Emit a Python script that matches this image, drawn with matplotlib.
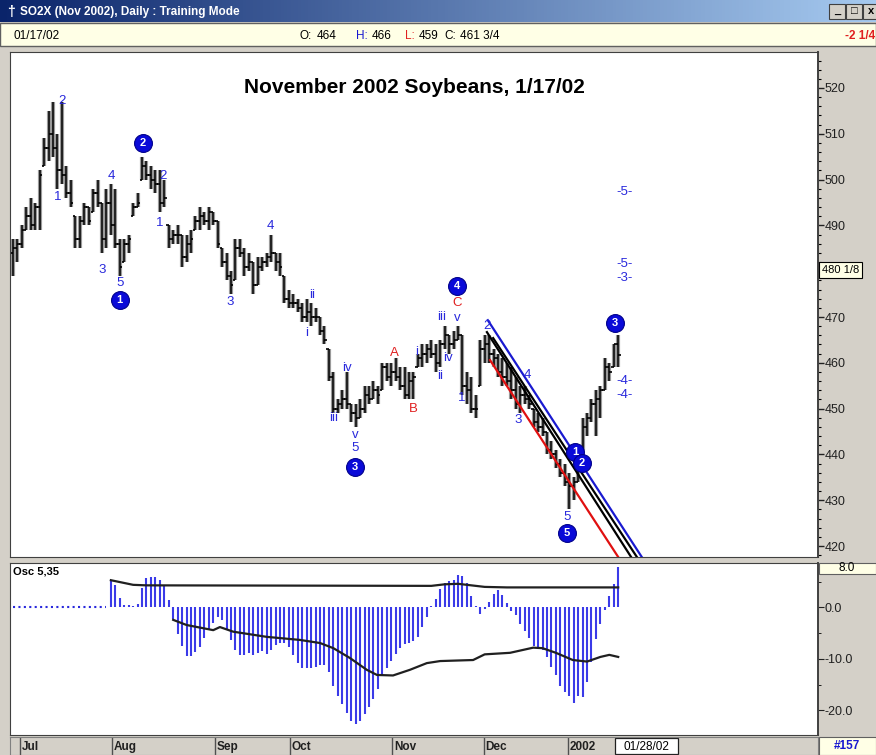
#!/usr/bin/env python3
"""
November 2002 Soybeans daily bar chart with Elliott wave counts
and a 5/35 oscillator panel (trading-software screenshot look)
"""

import numpy as np
import matplotlib
matplotlib.use("Agg")
import matplotlib.pyplot as plt
from matplotlib.patches import Rectangle

W, H = 876, 755
plt.rcParams['font.family'] = ['Liberation Sans', 'DejaVu Sans']

# Daily bars, Jul 2001 .. 01/17/02 (one entry per trading day)
highs = [487, 487, 490, 494, 496, 495, 502, 509, 515, 517,
         510, 517, 503, 500, 492, 492, 495, 494, 498, 500,
         495, 498, 499, 498, 487, 487, 488, 495, 497, 505,
         504, 503, 502, 502, 500, 490, 489, 490, 488, 488,
         489, 492, 494, 493, 494, 493, 491, 485, 484, 480,
         487, 487, 485, 484, 482, 483, 483, 484, 488, 484,
         484, 479, 476, 475, 474, 473, 474, 473, 472, 470,
         468, 463, 458, 452, 454, 458, 451, 451, 452, 455,
         455, 456, 455, 460, 460, 460, 461, 459, 459, 458,
         458, 462, 464, 464, 465, 464, 465, 468, 466, 467,
         468, 466, 458, 457, 453, 465, 466, 466, 463, 462,
         461, 460, 459, 457, 455, 455, 453, 450, 449, 448,
         445, 443, 441, 439, 438, 436, 435, 439, 448, 449,
         452, 454, 455, 461, 460, 464, 466]
lows = [479, 482, 485, 489, 489, 489, 489, 503, 504, 505,
        498, 499, 496, 494, 485, 485, 490, 490, 493, 494,
        484, 485, 488, 485, 479, 482, 484, 492, 494, 500,
        500, 498, 497, 493, 494, 485, 486, 486, 481, 482,
        484, 489, 489, 490, 489, 490, 485, 481, 478, 475,
        478, 483, 479, 480, 475, 477, 480, 481, 482, 480,
        479, 473, 472, 472, 471, 469, 469, 468, 469, 466,
        464, 456, 449, 449, 450, 450, 447, 446, 448, 449,
        451, 452, 451, 454, 456, 455, 456, 454, 452, 452,
        452, 459, 459, 460, 461, 458, 459, 463, 462, 463,
        465, 453, 451, 449, 448, 455, 460, 460, 459, 457,
        455, 455, 452, 450, 449, 451, 450, 446, 445, 444,
        440, 439, 437, 435, 433, 428, 430, 434, 441, 444,
        447, 444, 448, 454, 456, 459, 459]
closes = [485, 486, 489, 492, 490, 494, 501, 507, 510, 507,
          502, 501, 497, 495, 487, 491, 494, 491, 497, 495,
          487, 495, 490, 486, 481, 486, 487, 494, 495, 503,
          501, 500, 499, 495, 496, 487, 488, 488, 483, 486,
          487, 491, 492, 491, 493, 491, 486, 482, 479, 477,
          485, 484, 481, 482, 477, 481, 482, 483, 484, 482,
          481, 474, 473, 473, 472, 470, 471, 470, 470, 467,
          465, 457, 450, 451, 452, 451, 449, 448, 450, 453,
          452, 454, 453, 459, 457, 458, 457, 455, 453, 456,
          457, 461, 462, 463, 462, 460, 464, 466, 464, 465,
          466, 455, 454, 450, 450, 463, 464, 462, 461, 458,
          457, 456, 454, 451, 453, 452, 451, 447, 446, 445,
          441, 440, 438, 436, 434, 433, 434, 437, 446, 448,
          451, 452, 454, 459, 458, 464, 461.75]
first_open = 484

# Osc 5,35 histogram, starts at bar 22 (earlier bars sit on the zero line)
osc_start = 22
osc_values = [5.4, 4.4, 1.8, 0.5, 0.4, 0.3, 0.6, 3.7, 5.8, 6.0,
              6.0, 5.3, 4.2, 1.5, -2.2, -5.1, -7.5, -9.4, -9.5, -8.7,
              -7.6, -5.9, -4.3, -3.1, -1.8, -2.4, -4.3, -6.3, -8.2, -9.2,
              -9.2, -8.8, -9.2, -8.8, -8.5, -9.1, -8.3, -7.2, -6.8, -6.8,
              -7.6, -9.3, -10.8, -11.7, -11.8, -11.8, -11.5, -11.1, -11.2, -12.5,
              -15.3, -17.2, -18.8, -20.5, -22.0, -22.6, -22.0, -20.6, -19.4, -17.8,
              -15.8, -13.4, -11.8, -10.4, -9.1, -7.8, -7.1, -6.8, -6.5, -5.7,
              -3.8, -1.8, 0.3, 1.7, 3.5, 4.7, 5.2, 5.3, 6.3, 6.2,
              4.7, 2.3, 0.2, -1.3, -0.3, 1.0, 2.6, 3.3, 2.4, 0.9,
              -0.6, -1.5, -3.3, -4.6, -6.0, -7.4, -8.0, -8.2, -9.6, -11.5,
              -13.2, -15.2, -16.5, -17.2, -18.6, -17.2, -17.3, -14.5, -10.5, -6.2,
              -3.2, -0.5, 2.2, 4.5, 7.9]

# black envelope lines on the oscillator panel (bar index, value)
osc_upper_idx = [22, 27, 30, 94, 97, 100, 102, 106, 111, 136]
osc_upper_val = [5.3, 4.4, 4.3, 4.2, 4.5, 4.6, 4.4, 4.0, 3.9, 3.9]
osc_lower_idx = [36, 39, 45, 46.5, 49.5, 57, 64.5, 69, 72, 75.7, 79.5, 81.8,
                 85.4, 89.2, 93, 96, 103.4, 106, 111.7, 116.9, 119, 122,
                 125.8, 129, 132, 134, 136]
osc_lower_val = [-2.4, -3.4, -4.4, -3.8, -4.7, -5.7, -6.3, -6.9, -7.9, -9.8,
                 -12.1, -13.1, -13.2, -12.1, -10.8, -10.4, -10.2, -9.1, -8.8,
                 -7.8, -7.9, -8.8, -10.2, -10.5, -9.6, -9.2, -9.6]

# month separators on the date strip (bar index where the month starts)
month_labels = ["Jul", "Aug", "Sep", "Oct", "Nov", "Dec", "2002"]
month_starts = [1.6, 22.2, 45.4, 62.2, 85.2, 105.8, 124.7]

# down channel drawn from wave 2: (start idx, start price, end idx, end price, colour)
channel_lines = [
    (106.7, 469.3, 141.3, 417.6, "#1a1ad0"),
    (106.5, 466.7, 138.9, 417.6, "black"),
    (107.9, 465.4, 140.2, 417.6, "black"),
    (107.2, 460.6, 136.0, 417.6, "#e01010"),
]

BLUE = "#2828dc"
RED = "#e02020"

# Elliott wave labels (text, bar index, price, colour)
wave_labels = [
    ("2", 11.0, 517.2, BLUE), ("1", 10.1, 496.2, BLUE), ("3", 20.0, 480.3, BLUE),
    ("4", 22.0, 500.8, BLUE), ("5", 24.0, 477.4, BLUE), ("2", 33.7, 500.8, BLUE),
    ("1", 33.0, 490.5, BLUE), ("3", 48.8, 473.3, BLUE), ("4", 57.8, 489.9, BLUE),
    ("ii", 67.2, 474.8, BLUE), ("i", 66.0, 466.5, BLUE), ("iii", 72.0, 448.0, BLUE),
    ("iv", 75.0, 458.9, BLUE), ("v", 76.9, 444.2, BLUE), ("5", 76.9, 441.4, BLUE),
    ("A", 85.8, 462.1, RED), ("B", 89.9, 449.9, RED), ("i", 90.8, 462.4, BLUE),
    ("ii", 96.0, 457.1, BLUE), ("iii", 96.4, 470.0, BLUE), ("iv", 97.8, 461.0, BLUE),
    ("v", 99.8, 469.8, BLUE), ("C", 99.8, 473.1, RED), ("1", 100.9, 452.3, BLUE),
    ("2", 106.5, 468.0, BLUE), ("4", 115.5, 457.3, BLUE), ("3", 113.5, 447.5, BLUE),
    ("5", 124.5, 426.3, BLUE),
    ("-5-", 137.5, 497.3, BLUE), ("-5-", 137.5, 481.6, BLUE), ("-3-", 137.5, 478.5, BLUE),
    ("-4-", 137.5, 456.0, BLUE), ("-4-", 137.5, 453.0, BLUE),
]

# circled major wave degree labels (text, bar index, price)
circle_labels = [
    ("1", 24.0, 473.7), ("2", 29.2, 508.0), ("3", 76.9, 437.2), ("4", 99.8, 476.8),
    ("5", 124.5, 422.8), ("1", 126.3, 440.5), ("2", 127.9, 438.1), ("3", 135.3, 468.7),
]

GRAY = "#d4d0c8"
PALE = "#ffffe6"


def fig_box(fig, x0, y0, x1, y1, face, edge=None, lw=0.8):
    """Rectangle in pixel coords (origin top-left)"""
    r = Rectangle((x0 / W, 1 - y1 / H), (x1 - x0) / W, (y1 - y0) / H,
                  transform=fig.transFigure, facecolor=face,
                  edgecolor=edge if edge else "none", linewidth=lw)
    fig.patches.append(r)


def fig_text(fig, x, y, s, **kw):
    fig.text(x / W, 1 - y / H, s, **kw)


def pix_axes(fig, x0, y0, x1, y1, **kw):
    return fig.add_axes([x0 / W, 1 - y1 / H, (x1 - x0) / W, (y1 - y0) / H], **kw)


def draw_window(fig):
    # title bar gradient
    tb = pix_axes(fig, 0, 0, W, 22)
    grad = np.linspace(0, 1, 256)
    c0 = np.array([10, 36, 106]) / 255
    c1 = np.array([166, 202, 240]) / 255
    img = (c0[None, :] * (1 - grad[:, None]) + c1[None, :] * grad[:, None])[None, :, :]
    tb.imshow(img, aspect="auto", extent=[0, 1, 0, 1])
    tb.set_axis_off()
    fig_text(fig, 7, 12, "\u2020", color="white", fontsize=10, fontweight="bold", va="center")
    fig_text(fig, 20, 12, "SO2X (Nov 2002), Daily : Training Mode", color="white",
             fontsize=8.5, fontweight="bold", va="center")
    for x0, sym in [(829, "_"), (846, "\u25a1"), (863, "x")]:
        fig_box(fig, x0, 4, x0 + 16, 19, GRAY, "#404040")
        fig_text(fig, x0 + 8, 11, sym, fontsize=8, fontweight="bold", ha="center", va="center")

    # info bar
    fig_box(fig, 0, 23, W, 46, PALE, "#606060", 1.0)
    fig_text(fig, 14, 36, "01/17/02", fontsize=8.5, va="center")
    info = [(300, "O:", "black"), (317, "464", "black"), (356, "H:", "#1818d0"),
            (372, "466", "black"), (405, "L:", RED), (419, "459", "black"),
            (444, "C:", "black"), (460, "461 3/4", "black")]
    for x, s, c in info:
        fig_text(fig, x, 36, s, fontsize=8.5, color=c, va="center")
    fig_text(fig, 845, 36, "-2 1/4", fontsize=8.5, color=RED, va="center", fontweight="bold")


def draw_price_panel(fig):
    ax = pix_axes(fig, 10, 52, 818, 557, facecolor="white")
    n = len(highs)
    idx = np.arange(n)
    opens = np.clip(np.r_[first_open, closes[:-1]], lows, highs)

    ax.vlines(idx, lows, highs, color="#9a9a9a", lw=3.0, zorder=2)
    ax.vlines(idx, lows, highs, color="black", lw=1.1, zorder=3)
    ax.hlines(closes, idx, idx + 0.55, color="black", lw=1.2, zorder=3)
    ax.hlines(opens, idx - 0.55, idx, color="black", lw=1.2, zorder=3)

    for x0, y0, x1, y1, c in channel_lines:
        ax.plot([x0, x1], [y0, y1], color=c, lw=1.6, zorder=4)

    for s, x, y, c in wave_labels:
        ax.text(x, y, s, color=c, fontsize=9.5, ha="center", va="center", zorder=5)
    for s, x, y in circle_labels:
        ax.scatter([x], [y], s=165, color="#0a0ad8", edgecolor="#00008a", lw=0.8, zorder=6)
        ax.text(x, y, s, color="white", fontsize=8, fontweight="bold",
                ha="center", va="center", zorder=7)

    ax.text(0.5, 0.93, "November 2002 Soybeans, 1/17/02", transform=ax.transAxes,
            fontsize=15, fontweight="bold", ha="center", va="center")

    ax.set_xlim(-0.67, 180.9)
    ax.set_ylim(417.6, 527.86)
    ax.set_xticks([])
    ax.yaxis.tick_right()
    ticks = np.arange(420, 521, 10)
    ax.set_yticks(ticks)
    # the 480 label sits under the last-price box
    ax.set_yticklabels(["" if t == 480 else str(t) for t in ticks])
    ax.set_yticks(np.arange(418, 528, 2), minor=True)
    ax.tick_params(axis="y", which="major", direction="out", length=4, width=1,
                   pad=1, labelsize=9, colors="#202020")
    ax.tick_params(axis="y", which="minor", direction="out", length=2, width=0.8)
    for sp in ax.spines.values():
        sp.set_color("#404040")
    ax.spines["right"].set_linewidth(1.4)

    ax.annotate("480 1/8", xy=(1.0, 480.3), xycoords=("axes fraction", "data"),
                xytext=(3, 0), textcoords="offset points", fontsize=8, va="center",
                bbox=dict(boxstyle="square,pad=0.25", fc=PALE, ec="black", lw=0.8),
                annotation_clip=False, zorder=10)
    return ax


def draw_osc_panel(fig):
    ax = pix_axes(fig, 10, 563, 818, 735, facecolor="white")
    vals = np.array(osc_values)
    idx = np.arange(osc_start, osc_start + len(vals))

    ax.plot(np.arange(0, osc_start), np.zeros(osc_start), color=BLUE, lw=1.5,
            ls=(0, (1, 1.6)))
    ax.vlines(idx, 0, vals, color="#3a3ae8", lw=1.5)
    ax.plot(osc_upper_idx, osc_upper_val, color="#202020", lw=1.6)
    ax.plot(osc_lower_idx, osc_lower_val, color="#202020", lw=1.6)

    ax.text(0.004, 0.95, "Osc 5,35", transform=ax.transAxes, fontsize=8,
            fontweight="bold", va="center")

    ax.set_xlim(-0.67, 180.9)
    ax.set_ylim(-24.76, 8.64)
    ax.set_xticks([])
    ax.yaxis.tick_right()
    ax.set_yticks([0, -10, -20])
    ax.set_yticklabels(["0.0", "-10.0", "-20.0"])
    ax.set_yticks([5, -5, -15], minor=True)
    ax.tick_params(axis="y", which="major", direction="out", length=4, pad=1,
                   labelsize=9, colors="#202020")
    ax.tick_params(axis="y", which="minor", direction="out", length=2)
    for sp in ax.spines.values():
        sp.set_color("#404040")
    ax.spines["right"].set_linewidth(1.4)

    fig_box(fig, 819, 563, W, 574, PALE, "#606060")
    fig_text(fig, 847, 568, "8.0", fontsize=8.5, ha="center", va="center")
    return ax


def draw_date_strip(fig):
    ax = pix_axes(fig, 10, 737, 818, 755, facecolor=GRAY)
    ax.set_xlim(-0.67, 180.9)
    ax.set_ylim(0, 1)
    ax.set_xticks([])
    ax.set_yticks([])
    for sp in ax.spines.values():
        sp.set_color("#808080")
    for lab, x in zip(month_labels, month_starts):
        ax.axvline(x, color="#505050", lw=1.0)
        ax.text(x + 0.4, 0.42, lab, fontsize=8.5, fontweight="bold", va="center",
                color="#202020")
    ax.add_patch(Rectangle((135.3, 0.08), 14.1, 0.84, facecolor="white",
                           edgecolor="#202020", lw=0.9))
    ax.text(142.35, 0.45, "01/28/02", fontsize=8.5, ha="center", va="center")

    fig_box(fig, 819, 737, W, 755, PALE, "#606060")
    fig_text(fig, 847, 746, "#157", fontsize=8.5, color="#1818d0", ha="center",
             va="center", fontweight="bold")


def main():
    fig = plt.figure(figsize=(W / 100, H / 100), dpi=100)
    fig.patch.set_facecolor(GRAY)

    draw_window(fig)
    draw_price_panel(fig)
    draw_osc_panel(fig)
    draw_date_strip(fig)

    fig.savefig("out.png", dpi=100, facecolor=GRAY)


if __name__ == "__main__":
    main()
